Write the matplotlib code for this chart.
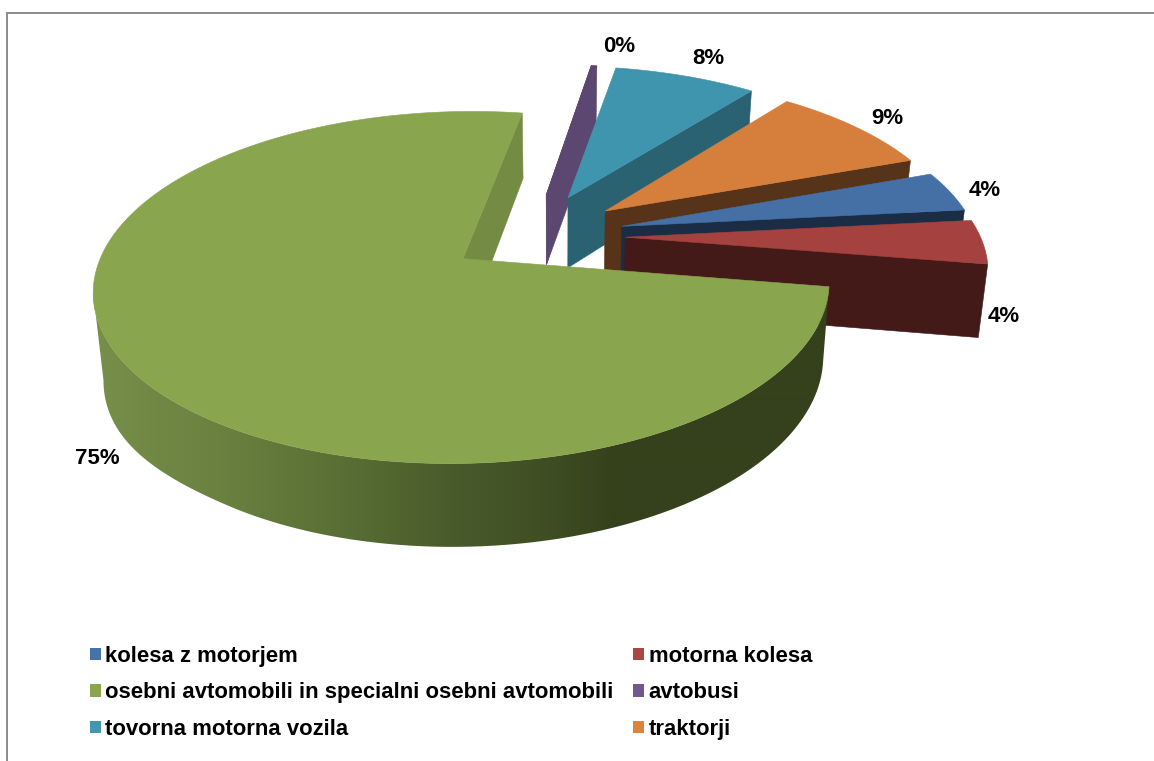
import numpy as np
import matplotlib
matplotlib.use("Agg")
import matplotlib.pyplot as plt
from matplotlib.patches import Polygon, Patch
from matplotlib.colors import to_rgb

categories = ["kolesa z motorjem", "motorna kolesa",
              "osebni avtomobili in specialni osebni avtomobili",
              "avtobusi", "tovorna motorna vozila", "traktorji"]
values = [3.9, 4.2, 75.0, 0.3, 7.7, 8.9]
explode = [0.265, 0.265, 0.231, 0.265, 0.265, 0.265]
top_colors = ["#4470A6", "#A5423F", "#89A54E", "#5C4770", "#4095AE", "#D67F3C"]
wall_colors = ["#1B2D45", "#431A18", "#748B44", "#5C4770", "#2A6272", "#57331A"]
legend_colors = ["#4572A7", "#AA4643", "#89A54E", "#71588F", "#4198AF", "#DB843D"]
label_xy = [(985, 191), (1004, 317), (97, 459), (619, 47), (708, 58), (887, 119)]
shade_x = [95, 226, 323, 444, 541, 614, 830]
shade_c = ["#768F49", "#6A8040", "#5C7236", "#4A5C2C", "#3F4F24", "#35411C", "#35411C"]

START = 20.0
CX, CY, R, K, P, H, PH = 531.0, 236.0, 355.0, 164.0, 0.16, 72.0, 0.12
VX, SHRINK = 560.0, 0.978

plt.rcParams["font.family"] = ["Liberation Sans", "DejaVu Sans"]
fig = plt.figure(figsize=(11.54, 7.61), dpi=100)
ax = fig.add_axes([0, 0, 1, 1])
ax.axis("off")


def top(X, Y):
    d = 1 - P * np.asarray(Y)
    return CX + R * np.asarray(X) / d, CY + K * np.asarray(Y) / d


def bottom(X, Y):
    x, y = top(X, Y)
    wall = H / (1 - PH * np.asarray(Y))
    sag = 0.00079 * np.clip(220 - x, 0, None) ** 2
    return VX + (x - VX) * SHRINK, y + wall + sag


def poly(xs, ys, color, z):
    p = Polygon(np.column_stack([xs, ys]), closed=True, facecolor=color,
                edgecolor=color, linewidth=0.4, zorder=z)
    ax.add_patch(p)
    return p


def radial_face(ax0, ay0, ex, ey, color, z):
    tx, ty = top([ax0, ex], [ay0, ey])
    bx, by = bottom([ax0, ex], [ay0, ey])
    poly([tx[0], tx[1], bx[1], bx[0]], [ty[0], ty[1], by[1], by[0]], color, z)


def curved_wall(Xs, Ys, ts, z):
    keep = np.sin(ts) < 0.4
    tx, ty = top(Xs[keep], Ys[keep])
    bx, by = bottom(Xs[keep], Ys[keep])
    it, ib = int(np.argmin(tx)), int(np.argmin(bx))
    outline = np.column_stack([np.r_[tx[:it + 1], bx[:ib + 1][::-1]],
                               np.r_[ty[:it + 1], by[:ib + 1][::-1]]])
    wall = Polygon(outline, closed=True, facecolor="none", edgecolor="none",
                   transform=ax.transData)
    ax.add_patch(wall)
    grid = np.arange(60, 860)
    rgb = np.array([to_rgb(c) for c in shade_c])
    img = np.stack([np.interp(grid, shade_x, rgb[:, k]) for k in range(3)], axis=-1)[None, :, :]
    im = ax.imshow(img, extent=(60, 860, 600, 250), aspect="auto", zorder=z,
                   interpolation="bilinear")
    im.set_clip_path(wall)


def draw_wedge(i, t_hi, t_lo, z):
    mid = np.radians((t_hi + t_lo) / 2)
    e = explode[i]
    ax0, ay0 = e * np.cos(mid), -e * np.sin(mid)
    ts = np.radians(np.linspace(t_hi, t_lo, max(int(abs(t_hi - t_lo) * 2), 8)))
    Xs = ax0 + np.cos(ts)
    Ys = ay0 - np.sin(ts)
    radial_face(ax0, ay0, Xs[-1], Ys[-1], wall_colors[i], z)
    if i == 2:
        curved_wall(Xs, Ys, ts, z)
    if i == 3:
        radial_face(ax0, ay0, Xs[0], Ys[0], wall_colors[i], z)
    px, py = top(np.r_[ax0, Xs], np.r_[ay0, Ys])
    poly(px, py, top_colors[i], z + 0.5)


spans = [v * 3.6 for v in values]
angles = START - np.r_[0, np.cumsum(spans)]
for z, i in enumerate([3, 4, 5, 0, 1, 2]):
    draw_wedge(i, angles[i], angles[i + 1], z + 1)

for v, (x, y) in zip(values, label_xy):
    ax.text(x, y, f"{round(v):d}%", ha="center", va="center", fontsize=16,
            fontweight="bold", color="black", zorder=20)

# frame of the chart area
ax.plot([6.5, 6.5, 1154], [761, 12.5, 12.5], color="#8C8C8C", lw=1.4, zorder=30,
        solid_joinstyle="miter")

ax.set_xlim(0, 1154)
ax.set_ylim(761, 0)

order = [0, 2, 4, 1, 3, 5]
handles = [Patch(facecolor=legend_colors[i], edgecolor="none") for i in order]
leg = ax.legend(handles, [categories[i] for i in order], ncol=2, loc="upper left",
                bbox_to_anchor=(90 / 1154, 1 - 646 / 761), frameon=False,
                prop={"size": 15.9, "weight": "bold"}, handlelength=0.5, handleheight=0.5,
                handletextpad=0.2, labelspacing=0.7, columnspacing=0.88, borderpad=0,
                borderaxespad=0)

fig.savefig("out.png", dpi=100)
